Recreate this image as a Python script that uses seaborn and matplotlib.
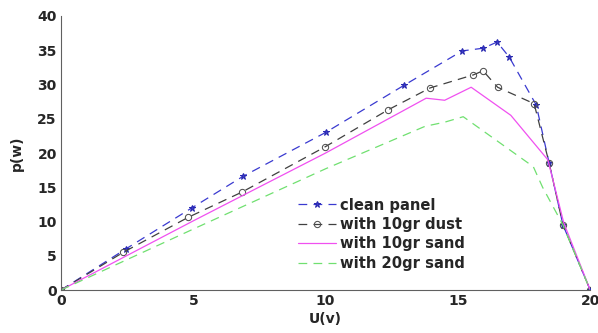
import pandas as pd
import matplotlib.pyplot as plt
import seaborn as sns

# --------------------------
# Data
# --------------------------

clean_u = [0, 2.45, 4.95, 6.88, 10, 12.97, 15.16, 15.96, 16.48, 16.94, 17.96, 18.45, 18.97, 20]
clean_p = [0, 6.0, 12.0, 16.6, 23.0, 29.9, 34.9, 35.3, 36.2, 34.0, 27.0, 18.5, 9.5, 0]

dust_u = [0, 2.35, 4.8, 6.84, 9.98, 12.36, 13.95, 15.58, 15.95, 16.5, 17.88, 18.45, 18.97, 20]
dust_p = [0, 5.5, 10.6, 14.3, 20.9, 26.3, 29.5, 31.4, 32.0, 29.6, 27.2, 18.5, 9.5, 0]

sand10_u = [0, 5, 10, 13.8, 14.5, 15.5, 17.0, 18.4, 19.0, 20]
sand10_p = [0, 10.1, 20.0, 28.0, 27.7, 29.6, 25.5, 19.0, 9.8, 0]

sand20_u = [0, 5, 10, 13.76, 14.5, 15.2, 17.85, 18.2, 18.97, 20]
sand20_p = [0, 8.9, 17.7, 23.9, 24.5, 25.3, 18.0, 15.0, 9.5, 0]

labels = ["clean panel", "with 10gr dust", "with 10gr sand", "with 20gr sand"]

# --------------------------
# Plot
# --------------------------

sns.set_style("white")
plt.rcParams["font.family"] = ["DejaVu Sans"]
plt.rcParams["font.weight"] = "bold"

fig = plt.figure(figsize=(5.98, 3.33), dpi=100)
ax = fig.add_axes([0.102, 0.129, 0.885, 0.823])

sns.lineplot(x=clean_u, y=clean_p, ax=ax, sort=False, estimator=None,
             color="#3a3ad0", linestyle=(0, (7, 5)), linewidth=0.9,
             marker="*", markersize=4.5, markeredgecolor="#2a2ab0",
             label=labels[0])
sns.lineplot(x=dust_u, y=dust_p, ax=ax, sort=False, estimator=None,
             color="#404040", linestyle=(0, (7, 5)), linewidth=0.9,
             marker="o", markersize=4.5, markerfacecolor="none",
             markeredgecolor="#505050", label=labels[1])
sns.lineplot(x=sand10_u, y=sand10_p, ax=ax, sort=False, estimator=None,
             color="#f050f0", linewidth=0.9, label=labels[2])
sns.lineplot(x=sand20_u, y=sand20_p, ax=ax, sort=False, estimator=None,
             color="#70e070", linestyle=(0, (7, 5)), linewidth=0.9,
             label=labels[3])

ax.set_xlim(0, 20)
ax.set_ylim(0, 40)
ax.set_xticks([0, 5, 10, 15, 20])
ax.set_yticks(range(0, 41, 5))
ax.tick_params(direction="in", length=3, labelsize=10, pad=3)
for t in ax.get_xticklabels() + ax.get_yticklabels():
    t.set_fontweight("bold")

sns.despine(ax=ax)
for s in ["left", "bottom"]:
    ax.spines[s].set_color("#606060")
    ax.spines[s].set_linewidth(0.8)

ax.set_xlabel("U(v)", fontsize=10, fontweight="bold", labelpad=3)
ax.set_ylabel("p(w)", fontsize=10, fontweight="bold")
ax.yaxis.set_label_coords(-0.07, 0.5)

leg = ax.legend(loc="lower left", bbox_to_anchor=(0.422, 0.022), frameon=False,
                handlelength=2.6, handletextpad=0.25, labelspacing=0.3,
                numpoints=1, prop={"size": 10.6, "weight": "bold"})

fig.savefig("out.png", dpi=100)
